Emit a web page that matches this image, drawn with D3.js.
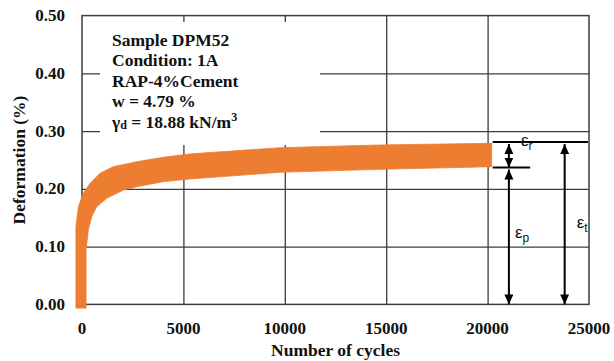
<!DOCTYPE html>
<html>
<head>
<meta charset="utf-8">
<script src="https://cdn.jsdelivr.net/npm/d3@7"></script>
<style>
  body { margin: 0; background: #fff; }
  svg { display: block; }
</style>
</head>
<body>
<div id="chart"></div>
<script>
// data
const cyclesUpper = [-300, -300, -180, 60, 400, 890, 1540, 2700, 4000, 5300, 9760, 14700, 20200]
const defUpper = [-0.007, 0.1345, 0.169, 0.192, 0.2097, 0.227, 0.2384, 0.247, 0.2547, 0.2604, 0.2713, 0.276, 0.2789]
const cyclesLower = [200, 200, 310, 480, 725, 1220, 2040, 2700, 4000, 5300, 9760, 14700, 20200]
const defLower = [-0.007, 0.094, 0.1288, 0.1518, 0.169, 0.1837, 0.198, 0.2038, 0.2124, 0.2171, 0.2287, 0.2339, 0.2384]

const xTicks = [0, 5000, 10000, 15000, 20000, 25000]
const yTicks = [0, 0.1, 0.2, 0.3, 0.4, 0.5]

const infoLines = ['Sample DPM52', 'Condition: 1A', 'RAP-4%Cement', 'w = 4.79 %']

// strain annotation (deformation levels and cycle positions)
const epsTotal = 0.281
const epsPerm = 0.237
const lineTopCycles = [20250, 24950]
const lineLowCycles = [20250, 22100]
const arrowRpCycles = 21050
const arrowTCycles = 23800

// dimensions
const w = 614
const h = 361
const pl = 82, pr = 589, pt = 15.6, pb = 304.4

const svg = d3.select('#chart')
    .append('svg')
    .attr('width', w)
    .attr('height', h)

const x = d3.scaleLinear().domain([0, 25000]).range([pl, pr])
const y = d3.scaleLinear().domain([0, 0.5]).range([pb, pt])

const gridCol = '#3c3c3c'

// grid
svg.append('g')
    .attr('transform', `translate(0,${pb})`)
    .call(d3.axisBottom(x).tickValues(xTicks.slice(1, -1)).tickSize(-(pb - pt)).tickFormat(''))
    .call(g => g.select('.domain').remove())
    .call(g => g.selectAll('line').attr('stroke', gridCol).attr('stroke-width', 1.3))

svg.append('g')
    .attr('transform', `translate(${pl},0)`)
    .call(d3.axisLeft(y).tickValues(yTicks.slice(1, -1)).tickSize(-(pr - pl)).tickFormat(''))
    .call(g => g.select('.domain').remove())
    .call(g => g.selectAll('line').attr('stroke', gridCol).attr('stroke-width', 1.3))

// frame
svg.append('rect')
    .attr('x', pl).attr('y', pt)
    .attr('width', pr - pl).attr('height', pb - pt)
    .attr('fill', 'none')
    .attr('stroke', gridCol)
    .attr('stroke-width', 1.5)

// text box (white, hides the grid)
svg.append('rect')
    .attr('x', 100).attr('y', 22)
    .attr('width', 220).attr('height', 123)
    .attr('fill', '#fff')

const info = svg.append('g')
    .attr('font-family', '"Liberation Serif", "Times New Roman", serif')
    .attr('font-weight', 'bold')
    .attr('font-size', 17.5)
    .attr('fill', '#111')

infoLines.forEach((t, i) => {
    info.append('text').attr('x', 112).attr('y', 45.5 + i * 20.5).text(t)
})
const gl = info.append('text').attr('x', 112).attr('y', 127.5)
gl.append('tspan').text('γ')
gl.append('tspan').attr('font-size', 12).attr('dy', 1).text('d')
gl.append('tspan').attr('dy', -1).text(' = 18.88 kN/m')
gl.append('tspan').attr('font-size', 12).attr('dy', -7).text('3')

// deformation band
const band = cyclesUpper.map((c, i) => [c, defUpper[i]])
    .concat(cyclesLower.map((c, i) => [c, defLower[i]]).reverse())

svg.append('path')
    .datum(band)
    .attr('d', d3.line().x(d => x(d[0])).y(d => y(d[1])).curve(d3.curveLinear))
    .attr('fill', '#ED7D31')
    .attr('stroke', '#ED7D31')
    .attr('stroke-width', 0.8)
    .attr('stroke-linejoin', 'round')

// axis labels
const tickFont = '"Liberation Serif", "Times New Roman", serif'

svg.append('g')
    .selectAll('text')
    .data(xTicks)
    .enter()
    .append('text')
    .attr('x', d => x(d))
    .attr('y', 333.5)
    .attr('text-anchor', 'middle')
    .attr('font-family', tickFont)
    .attr('font-weight', 'bold')
    .attr('font-size', 17)
    .attr('fill', '#111')
    .text(d => d)

svg.append('g')
    .selectAll('text')
    .data(yTicks)
    .enter()
    .append('text')
    .attr('x', 65)
    .attr('y', d => y(d) + 5.5)
    .attr('text-anchor', 'end')
    .attr('font-family', tickFont)
    .attr('font-weight', 'bold')
    .attr('font-size', 17)
    .attr('fill', '#111')
    .text(d => d3.format('.2f')(d))

svg.append('text')
    .attr('x', (pl + pr) / 2)
    .attr('y', 356)
    .attr('text-anchor', 'middle')
    .attr('font-family', tickFont)
    .attr('font-weight', 'bold')
    .attr('font-size', 17.5)
    .attr('fill', '#111')
    .text('Number of cycles')

svg.append('text')
    .attr('transform', `translate(25,${(pt + pb) / 2}) rotate(-90)`)
    .attr('text-anchor', 'middle')
    .attr('font-family', tickFont)
    .attr('font-weight', 'bold')
    .attr('font-size', 17.5)
    .attr('fill', '#111')
    .text('Deformation (%)')

// strain annotation
svg.append('defs').append('marker')
    .attr('id', 'head')
    .attr('markerUnits', 'userSpaceOnUse')
    .attr('markerWidth', 10).attr('markerHeight', 10)
    .attr('refX', 10).attr('refY', 4.5)
    .attr('orient', 'auto-start-reverse')
    .append('path')
    .attr('d', 'M0,0 L10,4.5 L0,9 Z')
    .attr('fill', '#000')

svg.append('line')
    .attr('x1', x(lineTopCycles[0])).attr('x2', x(lineTopCycles[1]))
    .attr('y1', y(epsTotal)).attr('y2', y(epsTotal))
    .attr('stroke', '#000').attr('stroke-width', 2)

svg.append('line')
    .attr('x1', x(lineLowCycles[0])).attr('x2', x(lineLowCycles[1]))
    .attr('y1', y(epsPerm)).attr('y2', y(epsPerm))
    .attr('stroke', '#000').attr('stroke-width', 2)

const arrows = [
    { c: arrowRpCycles, a: epsTotal, b: epsPerm, pad: 2 },
    { c: arrowRpCycles, a: epsPerm, b: 0, pad: 2 },
    { c: arrowTCycles, a: epsTotal, b: 0, pad: 2 }
]

svg.selectAll('.arrow')
    .data(arrows)
    .enter()
    .append('line')
    .attr('class', 'arrow')
    .attr('x1', d => x(d.c)).attr('x2', d => x(d.c))
    .attr('y1', d => y(d.a) + d.pad).attr('y2', d => y(d.b))
    .attr('stroke', '#000').attr('stroke-width', 2)
    .attr('marker-start', 'url(#head)')
    .attr('marker-end', 'url(#head)')

const epsLabels = [
    { c: 21350, v: epsPerm + 0.0375, sub: 'r' },
    { c: 21050, v: 0.115, sub: 'p' },
    { c: 24100, v: 0.132, sub: 't' }
]

const epsText = svg.append('g')
    .attr('font-family', '"Liberation Sans", Arial, sans-serif')
    .attr('font-size', 17)
    .attr('fill', '#111')
    .selectAll('text')
    .data(epsLabels)
    .enter()
    .append('text')
    .attr('x', d => x(d.c) + 6)
    .attr('y', d => y(d.v))

epsText.append('tspan').text('ε')
epsText.append('tspan').attr('font-size', 12).attr('dy', 4).text(d => d.sub)
</script>
</body>
</html>
